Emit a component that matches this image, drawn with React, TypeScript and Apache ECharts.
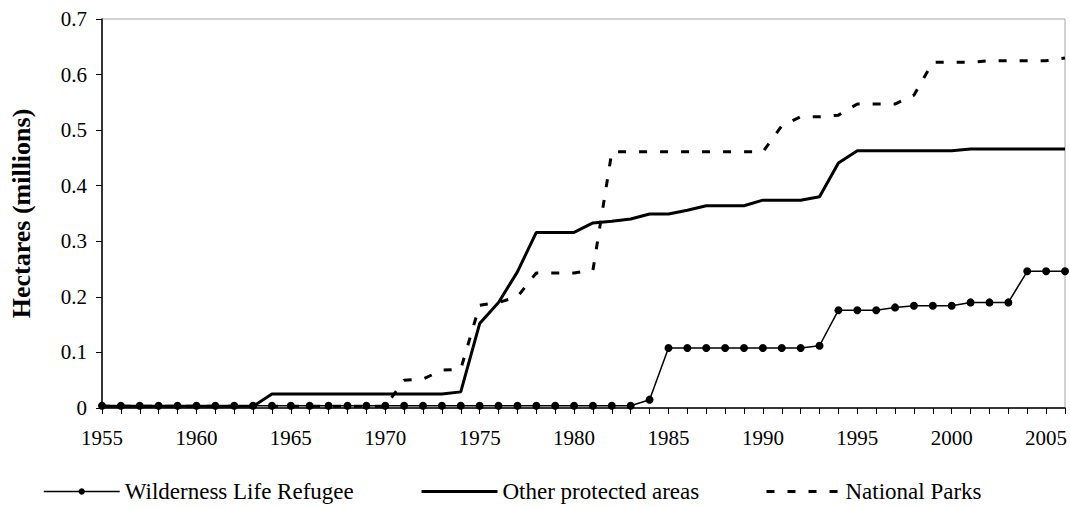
import React, { useEffect, useRef } from "react";
import * as echarts from "echarts";

const years = [
  "1955", "1956", "1957", "1958", "1959", "1960", "1961", "1962", "1963", "1964",
  "1965", "1966", "1967", "1968", "1969", "1970", "1971", "1972", "1973", "1974",
  "1975", "1976", "1977", "1978", "1979", "1980", "1981", "1982", "1983", "1984",
  "1985", "1986", "1987", "1988", "1989", "1990", "1991", "1992", "1993", "1994",
  "1995", "1996", "1997", "1998", "1999", "2000", "2001", "2002", "2003", "2004",
  "2005", "2006",
];

const wilderness = [
  0.004, 0.004, 0.004, 0.004, 0.004, 0.004, 0.004, 0.004, 0.004, 0.004,
  0.004, 0.004, 0.004, 0.004, 0.004, 0.004, 0.004, 0.004, 0.004, 0.004,
  0.004, 0.004, 0.004, 0.004, 0.004, 0.004, 0.004, 0.004, 0.004, 0.015,
  0.108, 0.108, 0.108, 0.108, 0.108, 0.108, 0.108, 0.108, 0.112, 0.176,
  0.176, 0.176, 0.181, 0.184, 0.184, 0.184, 0.19, 0.19, 0.19, 0.246,
  0.246, 0.246,
];

const otherProtected = [
  0.003, 0.003, 0.003, 0.003, 0.003, 0.003, 0.003, 0.003, 0.003, 0.025,
  0.025, 0.025, 0.025, 0.025, 0.025, 0.025, 0.025, 0.025, 0.025, 0.029,
  0.152, 0.19, 0.245, 0.316, 0.316, 0.316, 0.333, 0.336, 0.34, 0.349,
  0.349, 0.356, 0.364, 0.364, 0.364, 0.374, 0.374, 0.374, 0.38, 0.441,
  0.463, 0.463, 0.463, 0.463, 0.463, 0.463, 0.466, 0.466, 0.466, 0.466,
  0.466, 0.466,
];

const nationalParks = [
  0.003, 0.003, 0.003, 0.003, 0.003, 0.003, 0.003, 0.003, 0.003, 0.003,
  0.003, 0.003, 0.003, 0.003, 0.003, 0.003, 0.05, 0.052, 0.068, 0.07,
  0.185, 0.19, 0.2, 0.243, 0.243, 0.243, 0.248, 0.461, 0.461, 0.461,
  0.461, 0.461, 0.461, 0.461, 0.461, 0.461, 0.508, 0.524, 0.524, 0.527,
  0.547, 0.547, 0.547, 0.563, 0.622, 0.622, 0.622, 0.625, 0.625, 0.625,
  0.625, 0.63,
];

const seriesNames = ["Wilderness Life Refugee", "Other protected areas", "National Parks"];
const yTicks = ["0", "0.1", "0.2", "0.3", "0.4", "0.5", "0.6", "0.7"];

const FONT = "Liberation Serif";

export default function App() {
  const ref = useRef<HTMLDivElement>(null);

  useEffect(() => {
    document.body.style.margin = "0";
    if (!ref.current) return;
    const chart = echarts.init(ref.current, undefined, { renderer: "svg" });
    const legendText = { fontFamily: FONT, fontSize: 23, color: "#000" };
    chart.setOption({
      animation: false,
      backgroundColor: "#fff",
      textStyle: { fontFamily: FONT },
      grid: {
        left: 95,
        right: 5,
        top: 19,
        bottom: 99,
        show: true,
        borderColor: "#a6a6a6",
        borderWidth: 1,
        backgroundColor: "transparent",
      },
      legend: [
        {
          data: [seriesNames[0]],
          left: 43,
          top: 480,
          itemWidth: 76,
          itemHeight: 8,
          textStyle: legendText,
          padding: 0,
          lineStyle: { width: 1.5, color: "#000" },
        },
        {
          data: [seriesNames[1]],
          left: 420,
          top: 480,
          itemWidth: 76,
          itemHeight: 8,
          textStyle: legendText,
          padding: 0,
          itemStyle: { color: "transparent", borderWidth: 0, opacity: 0 },
          lineStyle: { width: 3, color: "#000" },
        },
        {
          data: [seriesNames[2]],
          left: 765,
          top: 480,
          itemWidth: 74,
          itemHeight: 8,
          textStyle: legendText,
          padding: 0,
          itemStyle: { color: "transparent", borderWidth: 0, opacity: 0 },
          lineStyle: { width: 3, color: "#000", type: [8, 13] },
        },
      ],
      xAxis: {
        type: "category",
        data: years,
        boundaryGap: false,
        axisLine: { lineStyle: { color: "#000", width: 1.5 } },
        axisTick: { interval: 0, length: 6, lineStyle: { color: "#000", width: 1 } },
        axisLabel: {
          interval: 4,
          fontFamily: FONT,
          fontSize: 21,
          color: "#000",
          margin: 19,
        },
        splitLine: { show: false },
      },
      yAxis: {
        type: "value",
        min: 0,
        max: 0.7,
        interval: 0.1,
        name: "Hectares (millions)",
        nameLocation: "middle",
        nameGap: 68,
        nameTextStyle: {
          fontFamily: FONT,
          fontSize: 26,
          fontWeight: "bold",
          color: "#000",
        },
        axisLine: { show: true, lineStyle: { color: "#000", width: 1.5 } },
        axisTick: { show: true, length: 6, lineStyle: { color: "#000", width: 1 } },
        axisLabel: {
          fontFamily: FONT,
          fontSize: 21,
          color: "#000",
          margin: 15,
          formatter: (v: number) => yTicks[Math.round(v * 10)] ?? String(v),
        },
        splitLine: { show: false },
      },
      series: [
        {
          name: seriesNames[2],
          type: "line",
          data: nationalParks,
          symbol: "none",
          color: "#000",
          lineStyle: { color: "#000", width: 3, type: [8, 13] },
          z: 2,
        },
        {
          name: seriesNames[1],
          type: "line",
          data: otherProtected,
          symbol: "none",
          color: "#000",
          lineStyle: { color: "#000", width: 3 },
          z: 3,
        },
        {
          name: seriesNames[0],
          type: "line",
          data: wilderness,
          symbol: "circle",
          symbolSize: 8,
          showSymbol: true,
          color: "#000",
          itemStyle: { color: "#000" },
          lineStyle: { color: "#000", width: 1.5 },
          z: 4,
        },
      ],
    });
    return () => chart.dispose();
  }, []);

  return <div ref={ref} style={{ width: 1070, height: 507 }} />;
}
